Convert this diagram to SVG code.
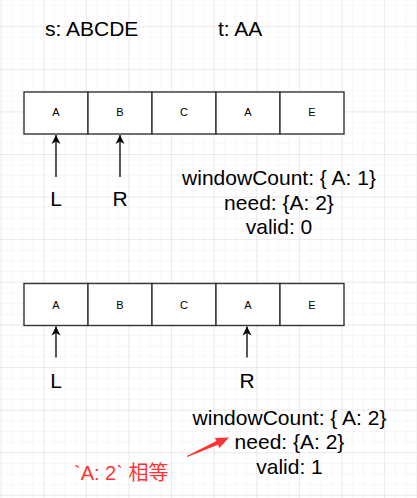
<svg xmlns="http://www.w3.org/2000/svg" width="417" height="498" viewBox="0 0 417 498">
<style>
.cell{fill:#ffffff;stroke:#333333;stroke-width:1.4}
.ct{font-family:"Liberation Sans",Arial,sans-serif;font-size:11px;fill:#000;text-anchor:middle}
.big{font-family:"Liberation Sans",Arial,sans-serif;font-size:21px;fill:#000}
.mid{text-anchor:middle}
.conn{stroke:#000;stroke-width:1.3;fill:none;marker-end:url(#ah)}
.red{font-family:"Liberation Sans",Arial,"Noto Sans CJK SC",sans-serif;font-size:20px;fill:#ff3333}
</style>
<defs>
<pattern id="minor" patternUnits="userSpaceOnUse" x="0.7" y="26.2" width="10.65" height="10.65">
<path d="M0 0H10.65M0 0V10.65" stroke="#f0f0f0" stroke-width="1" fill="none"/>
</pattern>
<pattern id="major" patternUnits="userSpaceOnUse" x="0.7" y="26.2" width="42.6" height="42.6">
<path d="M0 0H42.6M0 0V42.6" stroke="#dddddd" stroke-width="1" fill="none"/>
</pattern>
<marker id="ah" markerWidth="10" markerHeight="10" refX="9" refY="5" orient="auto" markerUnits="userSpaceOnUse">
<path d="M0 0.5L9 5L0 9.5L2.5 5Z" fill="#000"/>
</marker>
</defs>
<rect width="417" height="498" fill="#ffffff"/>
<rect width="417" height="498" fill="url(#minor)"/>
<rect width="417" height="498" fill="url(#major)"/>

<g id="title-s"><text class="big" x="45" y="36">s: ABCDE</text></g>
<g id="title-t"><text class="big" x="218" y="36">t: AA</text></g>

<g id="row1">
<rect class="cell" x="24" y="92" width="64" height="42"/>
<rect class="cell" x="88" y="92" width="64" height="42"/>
<rect class="cell" x="152" y="92" width="64" height="42"/>
<rect class="cell" x="216" y="92" width="64" height="42"/>
<rect class="cell" x="280" y="92" width="64" height="42"/>
<text class="ct" x="56" y="116">A</text>
<text class="ct" x="120" y="116">B</text>
<text class="ct" x="184" y="116">C</text>
<text class="ct" x="248" y="116">A</text>
<text class="ct" x="312" y="116">E</text>
</g>

<g id="row2">
<rect class="cell" x="24" y="283.5" width="64" height="42"/>
<rect class="cell" x="88" y="283.5" width="64" height="42"/>
<rect class="cell" x="152" y="283.5" width="64" height="42"/>
<rect class="cell" x="216" y="283.5" width="64" height="42"/>
<rect class="cell" x="280" y="283.5" width="64" height="42"/>
<text class="ct" x="56" y="308.5">A</text>
<text class="ct" x="120" y="308.5">B</text>
<text class="ct" x="184" y="308.5">C</text>
<text class="ct" x="248" y="308.5">A</text>
<text class="ct" x="312" y="308.5">E</text>
</g>

<g id="labels1">
<text class="big mid" x="56" y="206">L</text>
<text class="big mid" x="120" y="206">R</text>
</g>
<g id="labels2">
<text class="big mid" x="56" y="387.5">L</text>
<text class="big mid" x="247" y="387.5">R</text>
</g>

<g id="info1">
<text class="big mid" x="279" y="185">windowCount: { A: 1}</text>
<text class="big mid" x="279" y="209.5">need: {A: 2}</text>
<text class="big mid" x="279" y="234">valid: 0</text>
</g>
<g id="info2">
<text class="big mid" x="289.5" y="424.5">windowCount: { A: 2}</text>
<text class="big mid" x="289.5" y="449">need: {A: 2}</text>
<text class="big mid" x="289.5" y="473.5">valid: 1</text>
</g>

<g id="note"><text class="red" x="74" y="480">`A: 2` 相等</text></g>

<g id="connectors">
<path class="conn" d="M56 177V135"/>
<path class="conn" d="M120 177V135"/>
<path class="conn" d="M56 357.5V326.5"/>
<path class="conn" d="M247 357.5V326.5"/>
<polygon fill="#ff3333" points="187.2,457 218,444.7 219.5,447.9 229,437.5 214.9,437.9 216.4,441.1 186.8,456"/>
</g>
</svg>
